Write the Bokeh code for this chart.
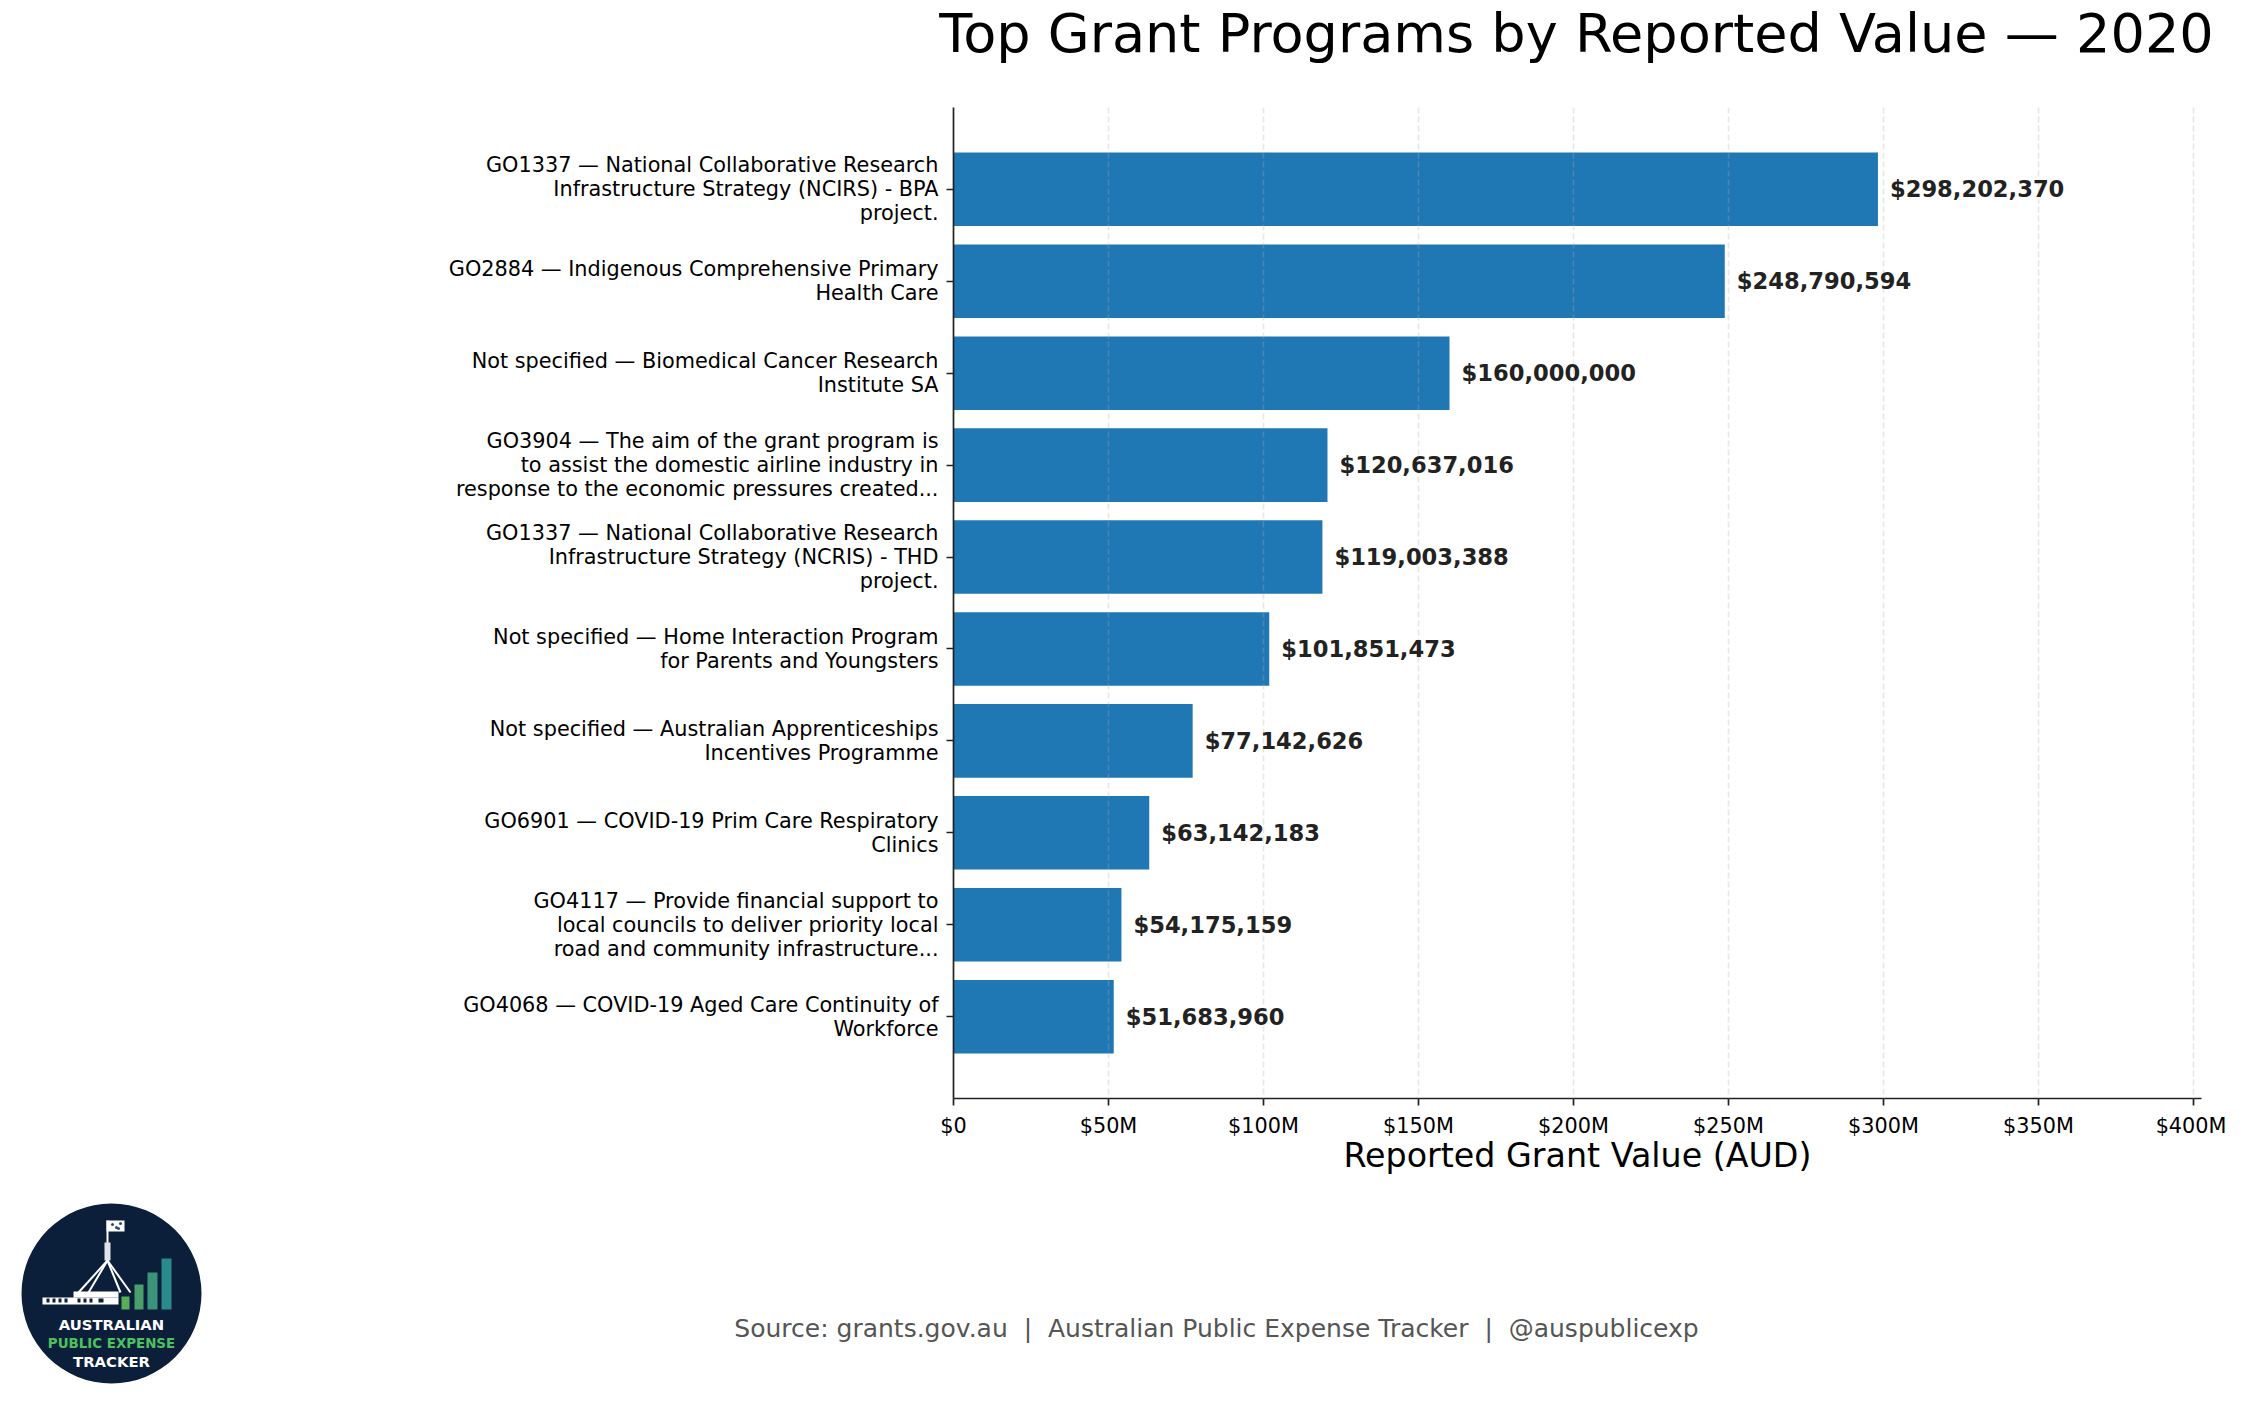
from bokeh.plotting import figure
from bokeh.models import Range1d, FixedTicker, Label, ColumnDataSource
from bokeh.layouts import column, row
from bokeh.embed import file_html
from bokeh.resources import INLINE
from bokeh.core.properties import value

# ---------------- data ----------------
programs = [
    "GO1337 \u2014 National Collaborative Research\nInfrastructure Strategy (NCIRS) - BPA\nproject.",
    "GO2884 \u2014 Indigenous Comprehensive Primary\nHealth Care",
    "Not specified \u2014 Biomedical Cancer Research\nInstitute SA",
    "GO3904 \u2014 The aim of the grant program is\nto assist the domestic airline industry in\nresponse to the economic pressures created...",
    "GO1337 \u2014 National Collaborative Research\nInfrastructure Strategy (NCRIS) - THD\nproject.",
    "Not specified \u2014 Home Interaction Program\nfor Parents and Youngsters",
    "Not specified \u2014 Australian Apprenticeships\nIncentives Programme",
    "GO6901 \u2014 COVID-19 Prim Care Respiratory\nClinics",
    "GO4117 \u2014 Provide financial support to\nlocal councils to deliver priority local\nroad and community infrastructure...",
    "GO4068 \u2014 COVID-19 Aged Care Continuity of\nWorkforce",
]
values = [298202370, 248790594, 160000000, 120637016, 119003388,
          101851473, 77142626, 63142183, 54175159, 51683960]
xtick_values = [0, 50e6, 100e6, 150e6, 200e6, 250e6, 300e6, 350e6, 400e6]
xtick_labels = ["$0", "$50M", "$100M", "$150M", "$200M", "$250M", "$300M", "$350M", "$400M"]

title_text = "Top Grant Programs by Reported Value \u2014 2020"
xlabel_text = "Reported Grant Value (AUD)"
source_text = ("Source: grants.gov.au\u00a0 |\u00a0 Australian Public Expense Tracker"
               "\u00a0 |\u00a0 @auspublicexp")

FONT = "DejaVu Sans"
n = len(values)
pos = list(range(n))
labels_txt = ["${:,}".format(v) for v in values]

src = ColumnDataSource(dict(y=pos, v=values, lab=labels_txt))

W = 2226


def blank(width, height):
    f = figure(width=width, height=height, output_backend="svg", toolbar_location=None,
               x_range=Range1d(0, width), y_range=Range1d(height, 0),
               min_border=0, x_axis_type=None, y_axis_type=None)
    f.outline_line_color = None
    f.grid.visible = False
    f.background_fill_color = "white"
    f.border_fill_color = "white"
    return f


# ---------------- title strip ----------------
TH = 80
tf = blank(W, TH)
tf.add_layout(Label(x=1576, y=33, text=title_text, text_align="center", text_baseline="middle",
                    text_font=FONT, text_font_size="54.1px", text_color="black"))

# ---------------- main chart ----------------
H_MAIN = 1198 - TH
p = figure(width=W, height=H_MAIN, output_backend="svg", toolbar_location=None,
           x_range=Range1d(0, max(values) * 1.35),
           y_range=Range1d(n - 1 + 0.89, -0.89),
           min_border_left=953, min_border_right=25,
           min_border_top=107 - TH, min_border_bottom=100)
p.outline_line_color = None
p.background_fill_color = "white"
p.border_fill_color = "white"

p.hbar(y="y", right="v", left=0, height=0.8, source=src,
       fill_color="#1f77b4", line_color=None)

t = p.text(x="v", y="y", text="lab", source=src, x_offset=12,
           text_font=value(FONT), text_font_style="bold", text_font_size="22.6px",
           text_color="#222222", text_baseline="middle", text_align="left")
t.level = "overlay"

# axes
ya = p.yaxis[0]
ya.ticker = FixedTicker(ticks=pos)
ya.major_label_overrides = {i: programs[i] for i in pos}
ya.major_label_text_font = FONT
ya.major_label_text_font_size = "20.8px"
ya.major_label_text_color = "black"
ya.major_label_text_line_height = 1.0
ya.major_tick_out = 7
ya.major_tick_in = 0
ya.minor_tick_out = 0
ya.minor_tick_in = 0
ya.major_label_standoff = 8
ya.axis_line_color = "#222222"
ya.axis_line_width = 1.7
ya.major_tick_line_color = "#222222"
ya.major_tick_line_width = 1.7

xa = p.xaxis[0]
xa.ticker = FixedTicker(ticks=xtick_values)
xa.major_label_overrides = {xtick_values[i]: xtick_labels[i] for i in range(len(xtick_values))}
xa.major_label_text_font = FONT
xa.major_label_text_font_size = "20.8px"
xa.major_label_text_color = "black"
xa.major_tick_out = 7
xa.major_tick_in = 0
xa.minor_tick_out = 0
xa.minor_tick_in = 0
xa.major_label_standoff = 8
xa.axis_line_color = "#222222"
xa.axis_line_width = 1.7
xa.major_tick_line_color = "#222222"
xa.major_tick_line_width = 1.7
xa.axis_label = xlabel_text
xa.axis_label_text_font = FONT
xa.axis_label_text_font_size = "33.3px"
xa.axis_label_text_font_style = "normal"
xa.axis_label_text_color = "black"
xa.axis_label_standoff = -5

p.ygrid.grid_line_color = None
p.xgrid.grid_line_color = "#b0b0b0"
p.xgrid.grid_line_alpha = 0.3
p.xgrid.grid_line_dash = "6 3"
p.xgrid.grid_line_width = 1.6
p.xgrid.level = "guide"

# ---------------- logo ----------------
LW, LH = 230, 195
lg = blank(LW, LH)

NAVY = "#0b1f3b"
CX = 111
lg.circle(x=[CX], y=[95], radius=90, fill_color=NAVY, line_color=None)
dx = CX - 103
# flag and pole
lg.quad(left=[98 + dx], right=[116 + dx], top=[22], bottom=[33], fill_color="white", line_color=None)
lg.scatter(x=[104 + dx, 108 + dx, 112 + dx, 110 + dx], y=[26, 29, 25, 30], size=3,
           fill_color="#2a4a7a", line_color=None)
lg.segment(x0=[99 + dx], y0=[22], x1=[99 + dx], y1=[62], line_color="white", line_width=2)
lg.quad(left=[96 + dx], right=[102 + dx], top=[44], bottom=[62], fill_color="#dfe4ea", line_color=None)
lg.segment(x0=[99 + dx] * 4, y0=[62] * 4, x1=[70 + dx, 80 + dx, 112 + dx, 122 + dx], y1=[94] * 4,
           line_color="white", line_width=2)
# building
lg.quad(left=[34 + dx, 65 + dx], right=[110 + dx, 110 + dx], top=[99, 93], bottom=[106, 99],
        fill_color="white", line_color=None)
lg.quad(left=[x + dx for x in [38, 44, 50, 56, 69, 75, 81, 90]],
        right=[x + dx for x in [41, 47, 53, 59, 72, 78, 84, 95]],
        top=[100] * 8, bottom=[104] * 8, fill_color=NAVY, line_color=None)
# bars
lg.quad(left=[x + dx for x in [113, 126, 139, 153]], right=[x + dx for x in [121, 135, 149, 163]],
        top=[98, 86, 74, 60], bottom=[111] * 4,
        fill_color=["#5aae5a", "#4aa06a", "#3b947a", "#2b8a8c"], line_color=None)
for txt, yy, col, fs in [("AUSTRALIAN", 126, "white", "14.8px"),
                         ("PUBLIC EXPENSE", 145, "#4cc25f", "13.4px"),
                         ("TRACKER", 163, "white", "14.8px")]:
    lg.add_layout(Label(x=CX, y=yy, text=txt, text_align="center", text_baseline="middle",
                        text_font=FONT, text_font_style="bold", text_font_size=fs,
                        text_color=col))

# ---------------- source line ----------------
SW = W - LW
sf = blank(SW, LH)
sf.add_layout(Label(x=1216 - LW, y=130, text=source_text, text_align="center",
                    text_baseline="middle", text_font=FONT, text_font_size="25px",
                    text_color="#555555"))

layout = column(row(tf), p, row(lg, sf))
open("out.html", "w").write(file_html(layout, INLINE))
